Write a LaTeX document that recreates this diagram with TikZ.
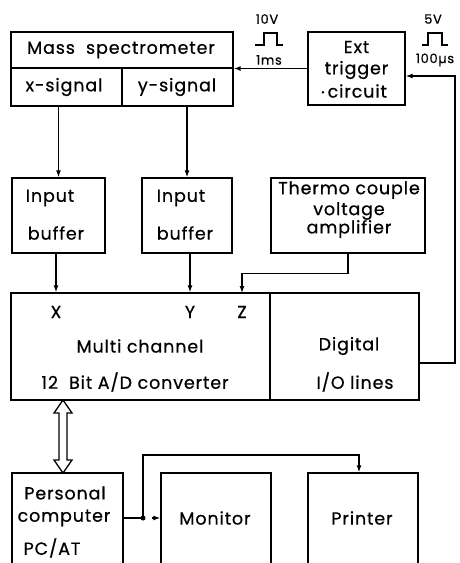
\documentclass[tikz,border=0pt]{standalone}
\usepackage{fontspec}
\setmainfont{Poppins}[LetterSpace=5, FakeBold=0.6]
\usetikzlibrary{arrows.meta}
\tikzset{
  box/.style={draw, line width=1.3pt, rectangle, inner sep=0pt},
  lbl/.style={inner sep=0pt, font=\fontsize{17.5}{19}\selectfont, align=center},
  sml/.style={inner sep=0pt, font=\fontsize{13}{14}\selectfont},
  wire/.style={line width=1.3pt},
  arr/.style={wire, -{Latex[length=7pt,width=5pt]}},
}
\begin{document}
\begin{tikzpicture}[x=1pt,y=-1pt]
\useasboundingbox (0,0) rectangle (459,563);
\clip (0,0) rectangle (459,563);
% Mass spectrometer
\node[box, minimum width=222pt, minimum height=74pt] (ms) at (122,69) {};
\node[box, minimum width=222pt, minimum height=36pt] (mst) at (122,50) {};
\node[box, minimum width=111pt, minimum height=38pt] (xsig) at (66.5,87) {};
\node[box, minimum width=111pt, minimum height=38pt] (ysig) at (177.5,87) {};
\node[lbl] (tms) at (121,50) {Mass\ \ spectrometer};
\node[lbl] (txs) at (64,87) {x-signal};
\node[lbl] (tys) at (177,87) {y-signal};
% Ext trigger
\node[box, minimum width=97pt, minimum height=73pt] (ext) at (356.5,68.5) {};
\node[lbl] (text1) at (356.5,47) {Ext};
\node[lbl] (text2) at (356.5,70) {trigger};
\node[lbl] (text3) at (354,91) {\raisebox{0.25ex}{\scalebox{0.5}{•}}\,circuit};
% pulses
\node[sml] (p10v) at (267,19) {10V};
\node[sml] (p1ms) at (269,60) {1ms};
\draw[line width=1.2pt] (255,45) -- (264,45) -- (264,33) -- (277,33) -- (277,45) -- (283,45);
\node[sml] (p5v) at (433,19) {5V};
\node[sml] (p100) at (435,60) {100µs};
\draw[line width=1.2pt] (422,45) -- (428,45) -- (428,33) -- (442,33) -- (442,45) -- (448,45);
% Input buffers and thermo
\node[box, minimum width=93pt, minimum height=75pt] (ib1) at (58.5,215.5) {};
\node[box, minimum width=90pt, minimum height=75pt] (ib2) at (187,215.5) {};
\node[box, minimum width=154pt, minimum height=75pt] (tc) at (348,215.5) {};
\node[lbl] (tib1a) at (50,198) {Input};
\node[lbl] (tib1b) at (56,233) {buffer};
\node[lbl] (tib2a) at (181,198) {Input};
\node[lbl] (tib2b) at (185,233) {buffer};
\node[lbl] (ttc1) at (349,190) {Thermo couple};
\node[lbl] (ttc2) at (349,211) {voltage};
\node[lbl] (ttc3) at (349,229) {amplifier};
% Multi channel and digital
\node[box, minimum width=259pt, minimum height=107pt] (mc) at (140.5,346.5) {};
\node[box, minimum width=149pt, minimum height=107pt] (dio) at (344.5,346.5) {};
\node[lbl] (tx) at (56,312) {X};
\node[lbl] (ty) at (190,312) {Y};
\node[lbl] (tz) at (242,312) {Z};
\node[lbl] (tmc1) at (140,346) {Multi channel};
\node[lbl] (tmc2) at (135,382) {12\ \ Bit A/D converter};
\node[lbl] (tdio1) at (349,346) {Digital};
\node[lbl] (tdio2) at (355,382) {I/O lines};
% Bottom row
\node[box, minimum width=111pt, minimum height=107pt] (pc) at (67.5,526.5) {};
\node[box, minimum width=110pt, minimum height=107pt] (mon) at (216,526.5) {};
\node[box, minimum width=110pt, minimum height=107pt] (prn) at (363,526.5) {};
\node[lbl] (tpc1) at (65,493) {Personal};
\node[lbl] (tpc2) at (64,518) {computer};
\node[lbl] (tpc3) at (52,548) {PC/AT};
\node[lbl] (tmon) at (215,518) {Monitor};
\node[lbl] (tprn) at (362,518) {Printer};
% connectors
\draw[arr] (ext.west) -- (ext.west -| ms.east);
\draw[arr] (ib1.north |- xsig.south) -- (ib1.north);
\draw[arr] (ib2.north |- ysig.south) -- (ib2.north);
\draw[arr] ([xshift=-2.5pt]ib1.south) -- ([xshift=-2.5pt]ib1.south |- mc.north);
\draw[arr] ([xshift=3pt]ib2.south) -- ([xshift=3pt]ib2.south |- mc.north);
\coordinate (zin) at (242,293);
\draw[arr] (tc.south) -- ++(0,20) -| (zin);
\coordinate (rbend) at (455,363);
\draw[arr] ([yshift=-16.5pt]dio.east) -- (rbend) |- ([yshift=-7.5pt]ext.east);
% double arrow
\draw[line width=1.3pt, fill=white] (63,400) -- (72,413) -- (67,413) -- (67,460) -- (72,460) -- (63,473) -- (54,460) -- (59,460) -- (59,413) -- (54,413) -- cycle;
% PC outputs
\coordinate (j) at (143,518);
\coordinate (mtick) at (152,518);
\draw[wire] ([yshift=8.5pt]pc.east) -- (j);
\fill (j) circle (2.5pt);
\draw[arr] (j) -- (143,455) -| ([xshift=-4pt]prn.north);
\draw[arr] (mtick) -- (mtick -| mon.west);
\end{tikzpicture}
\end{document}
